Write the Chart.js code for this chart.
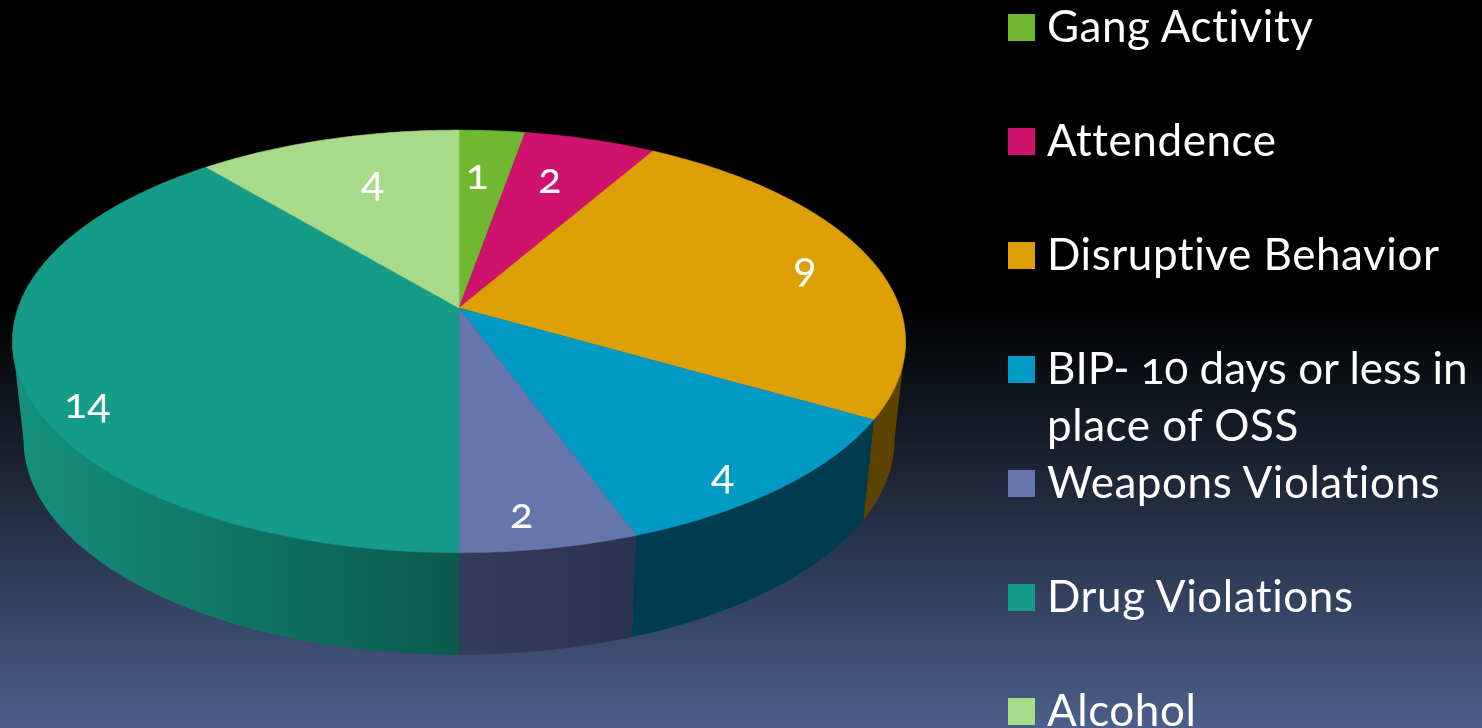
<!DOCTYPE html>
<html lang="en">
<head>
<meta charset="UTF-8">
<title>Referrals</title>
<script src="https://cdn.jsdelivr.net/npm/chart.js"></script>
<style>
    html, body { margin: 0; padding: 0; }
    body {
        width: 1482px; height: 728px; overflow: hidden; position: relative;
        background: linear-gradient(#000 0, #000 310px, #4a5f8a 728px);
        font-family: Lato, "Open Sans", sans-serif; color: #fff;
        font-feature-settings: "onum" 1, "liga" 0; font-variant-numeric: oldstyle-nums; font-variant-ligatures: none;
    }
    #wrap { position: absolute; left: 0; top: 0; width: 1482px; height: 728px; }
    #pie { display: block; }
    .legend-item { position: absolute; left: 1047px; font-size: 44px; line-height: 57px; white-space: nowrap; letter-spacing: 0.55px; }
    .legend-box { position: absolute; left: 1008px; width: 27px; height: 27px; }
    .value-label { position: absolute; font-size: 43px; line-height: 43px; transform: translate(-50%, calc(-50% - 5px)); }
</style>
</head>
<body>
<div id="wrap"><canvas id="pie" width="1482" height="728"></canvas></div>
<script>
const categories = ['Gang Activity', 'Attendence', 'Disruptive Behavior', 'BIP- 10 days or less in|place of OSS', 'Weapons Violations', 'Drug Violations', 'Alcohol'];
const counts = [1, 2, 9, 4, 2, 14, 4];
const topColors = ['#6fb82f', '#cf126b', '#dca004', '#009ac4', '#6576ad', '#159c88', '#a7db8a'];
const wallColors = ['#386018', '#6a0936', '#5c4300', '#003c50', '#3a3f5e', '#0b5b4e', '#55704a'];

// where each number sits on the disc (fraction of radius, degrees off slice middle)
const labelRadius = [0.71, 0.72, 0.83, 0.90, 0.88, 0.90, 0.70];
const labelShift = [-1.3, -1.5, 1.7, 4, 2, -9.4, 2];

// perspective of the disc, fitted to the picture
const cx = 459, persp = 0.158;
const topDisc = { y: 308, a: 441, b: 206 };
const lowDisc = { y: 406, a: 430, b: 209.4 };
const edgeAngle = Math.acos(-persp); // where the rim turns away from us

function project(disc, theta, r) {
    const u = r * Math.sin(theta), v = -r * Math.cos(theta);
    const d = 1 - persp * v;
    return { x: cx + disc.a * u / d, y: disc.y + disc.b * v / d };
}

function traceRim(ctx, disc, from, to) {
    const steps = Math.max(2, Math.ceil(Math.abs(to - from) / 0.01));
    for (let i = 0; i <= steps; i++) {
        const p = project(disc, from + (to - from) * i / steps, 1);
        ctx.lineTo(p.x, p.y);
    }
}

const disc3d = {
    id: 'disc3d',
    beforeDatasetsDraw(chart) {
        const ctx = chart.ctx;
        const arcs = chart.getDatasetMeta(0).data;
        ctx.save();
        // side wall first, only the part that faces us
        arcs.forEach((arc, i) => {
            const from = Math.max(arc.startAngle + Math.PI / 2, edgeAngle);
            const to = Math.min(arc.endAngle + Math.PI / 2, 2 * Math.PI - edgeAngle);
            if (to <= from) return;
            ctx.beginPath();
            traceRim(ctx, topDisc, from, to);
            traceRim(ctx, lowDisc, to, from);
            ctx.closePath();
            if (i === 5) {
                const g = ctx.createLinearGradient(cx, 0, 20, 0);
                g.addColorStop(0, '#0a5a4e');
                g.addColorStop(0.5, '#107563');
                g.addColorStop(1, '#168f7d');
                ctx.fillStyle = g;
            } else if (i === 4) {
                const g = ctx.createLinearGradient(cx, 0, 636, 0);
                g.addColorStop(0, '#353c5a');
                g.addColorStop(1, '#2c3350');
                ctx.fillStyle = g;
            } else {
                ctx.fillStyle = wallColors[i];
            }
            ctx.fill();
        });
        // top face
        arcs.forEach((arc, i) => {
            const from = arc.startAngle + Math.PI / 2, to = arc.endAngle + Math.PI / 2;
            ctx.beginPath();
            ctx.moveTo(cx, topDisc.y);
            traceRim(ctx, topDisc, from, to);
            ctx.closePath();
            ctx.fillStyle = arc.options.backgroundColor;
            ctx.strokeStyle = arc.options.backgroundColor;
            ctx.lineWidth = 0.6;
            ctx.fill();
            ctx.stroke();
        });
        ctx.restore();
        // numbers
        arcs.forEach((arc, i) => {
            const mid = (arc.startAngle + arc.endAngle) / 2 + Math.PI / 2 + labelShift[i] * Math.PI / 180;
            const p = project(topDisc, mid, labelRadius[i]);
            const el = valueEls[i];
            el.style.left = p.x + 'px';
            el.style.top = p.y + 'px';
        });
        return false;
    }
};

const wrap = document.getElementById('wrap');
const valueEls = counts.map(n => {
    const el = document.createElement('div');
    el.className = 'value-label';
    el.textContent = n;
    wrap.appendChild(el);
    return el;
});

// legend, fixed row pitch like the slide
categories.forEach((name, i) => {
    const y = 27 + i * 114;
    const box = document.createElement('div');
    box.className = 'legend-box';
    box.style.top = (y - 13) + 'px';
    box.style.background = topColors[i];
    wrap.appendChild(box);
    name.split('|').forEach((line, j) => {
        const row = document.createElement('div');
        row.className = 'legend-item';
        row.style.top = (y - 30 + j * 57) + 'px';
        if (line.startsWith('BIP')) row.style.letterSpacing = '0';
        row.textContent = line;
        wrap.appendChild(row);
    });
});

new Chart(document.getElementById('pie'), {
    type: 'pie',
    data: {
        labels: categories.map(c => c.replace('|', ' ')),
        datasets: [{ data: counts, backgroundColor: topColors, borderWidth: 0 }]
    },
    options: {
        responsive: false,
        animation: false,
        events: [],
        plugins: { legend: { display: false }, tooltip: { enabled: false } }
    },
    plugins: [disc3d]
});
</script>
</body>
</html>
